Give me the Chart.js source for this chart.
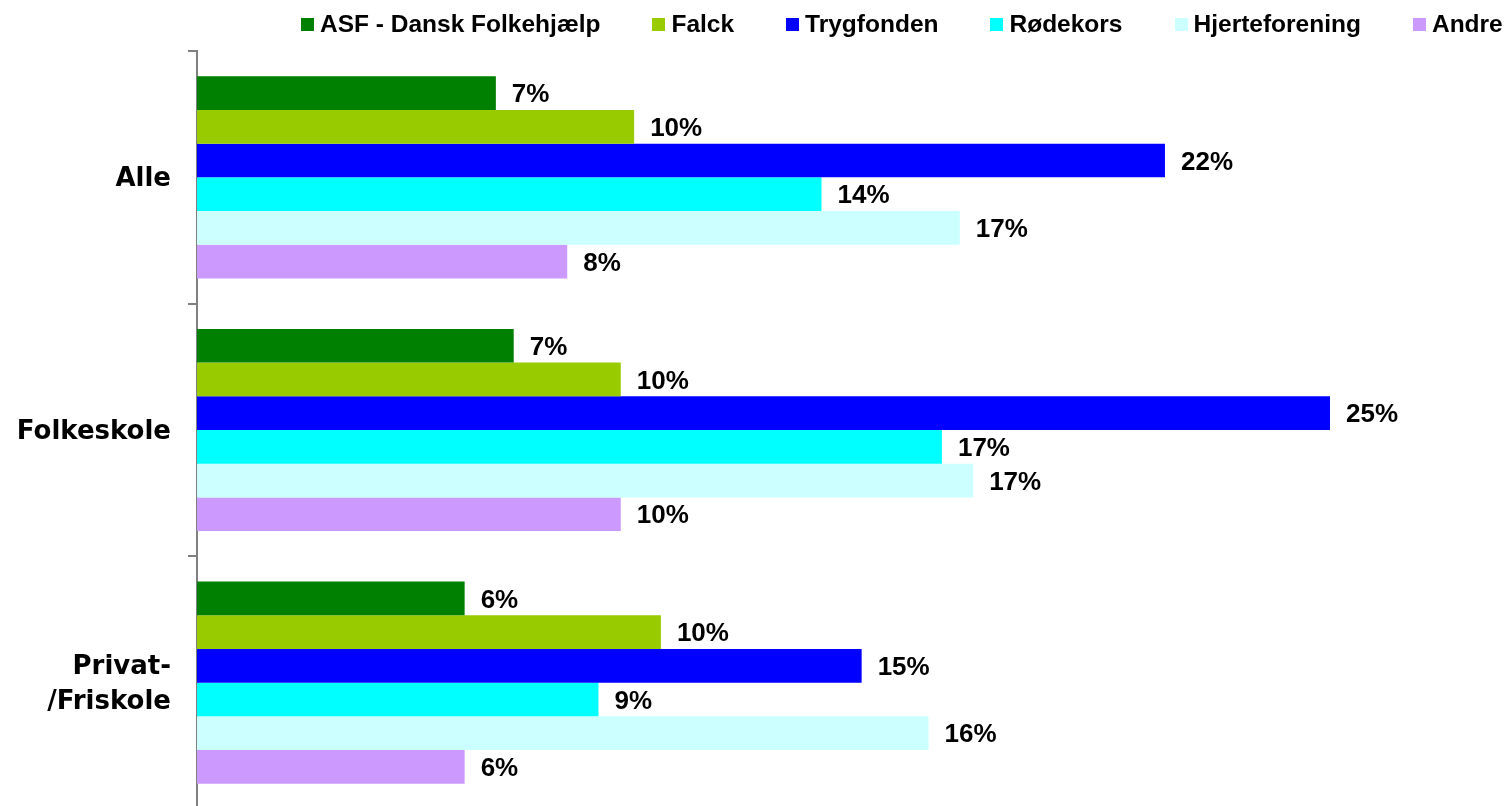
<!DOCTYPE html>
<html>
<head>
<meta charset="utf-8">
<script src="https://cdn.jsdelivr.net/npm/chart.js@4.4.0/dist/chart.umd.min.js"></script>
<style>
html, body { margin: 0; padding: 0; background: #fff; overflow: hidden; }
#wrap { position: relative; width: 1507px; height: 812px; }
#legend { position: absolute; left: 301px; top: 12px; display: flex; font: bold 24.5px "Liberation Sans", Arial, sans-serif; line-height: 24px; color: #000; }
.item { display: flex; align-items: center; margin-right: 52px; white-space: nowrap; }
.item:last-child { margin-right: 0; }
.box { width: 13px; height: 13px; margin-right: 6px; }
</style>
</head>
<body>
<div id="wrap">
    <div id="legend"></div>
    <canvas id="chart"></canvas>
</div>
<script>
var categories = ['Alle', 'Folkeskole', ['Privat-', '/Friskole']];
var series_names = ['ASF - Dansk Folkehjælp', 'Falck', 'Trygfonden', 'Rødekors', 'Hjerteforening', 'Andre'];
var series_colors = ['#008000', '#99CC00', '#0000FF', '#00FFFF', '#CCFFFF', '#CC99FF'];

// values in %, order: Alle, Folkeskole, Privat-/Friskole
var asf = [6.7, 7.1, 6.0];
var falck = [9.8, 9.5, 10.4];
var trygfonden = [21.7, 25.4, 14.9];
var roedekors = [14.0, 16.7, 9.0];
var hjerteforening = [17.1, 17.4, 16.4];
var andre = [8.3, 9.5, 6.0];

var series_values = [asf, falck, trygfonden, roedekors, hjerteforening, andre];

function make_legend() {
    var obj = document.getElementById('legend');
    for (let i = 0; i < series_names.length; i++) {
        var item = document.createElement('div');
        item.className = 'item';
        var box = document.createElement('span');
        box.className = 'box';
        box.style.background = series_colors[i];
        var txt = document.createElement('span');
        txt.textContent = series_names[i];
        item.appendChild(box);
        item.appendChild(txt);
        obj.appendChild(item);
    }
}

// percent label right of each bar
var bar_labels = {
    id: 'bar_labels',
    afterDatasetsDraw: function(chart) {
        var ctx = chart.ctx;
        ctx.save();
        ctx.font = 'bold 26px "Liberation Sans", Arial, sans-serif';
        ctx.fillStyle = '#000';
        ctx.textBaseline = 'middle';
        ctx.textAlign = 'left';
        chart.data.datasets.forEach(function(ds, i) {
            chart.getDatasetMeta(i).data.forEach(function(bar, j) {
                ctx.fillText(Math.round(ds.data[j]) + '%', bar.x + 16, bar.y + 2);
            });
        });
        ctx.restore();
    }
};

function make_bar_plot() {
    var datasets = [];
    for (let i = 0; i < series_names.length; i++) {
        datasets.push({
            label: series_names[i],
            data: series_values[i],
            backgroundColor: series_colors[i],
            borderWidth: 0,
            categoryPercentage: 0.8,
            barPercentage: 1.0
        });
    }

    var config = {
        type: 'bar',
        data: {
            labels: categories,
            datasets: datasets
        },
        options: {
            indexAxis: 'y',
            responsive: true,
            maintainAspectRatio: false,
            animation: false,
            layout: {
                padding: { top: 51, right: 61, bottom: 3, left: 0 }
            },
            plugins: {
                legend: { display: false },
                tooltip: { enabled: false }
            },
            scales: {
                x: {
                    display: false,
                    min: 0,
                    max: 28
                },
                y: {
                    grid: {
                        drawOnChartArea: false,
                        drawTicks: true,
                        tickLength: 9,
                        color: '#808080',
                        lineWidth: 2,
                        offset: true
                    },
                    border: { display: true, color: '#808080', width: 2 },
                    ticks: {
                        color: '#000',
                        padding: 17,
                        labelOffset: 2,
                        font: { family: '"DejaVu Sans", Verdana, sans-serif', size: 26, weight: 'bold', lineHeight: 1.35 }
                    },
                    afterFit: function(scale) {
                        scale.width = 197;
                        // labels sit mid-band, so no extra edge room needed
                        scale.paddingTop = 0;
                        scale.paddingBottom = 0;
                    }
                }
            }
        },
        plugins: [bar_labels]
    };

    new Chart(document.getElementById('chart'), config);
}

make_legend();
make_bar_plot();
</script>
</body>
</html>
